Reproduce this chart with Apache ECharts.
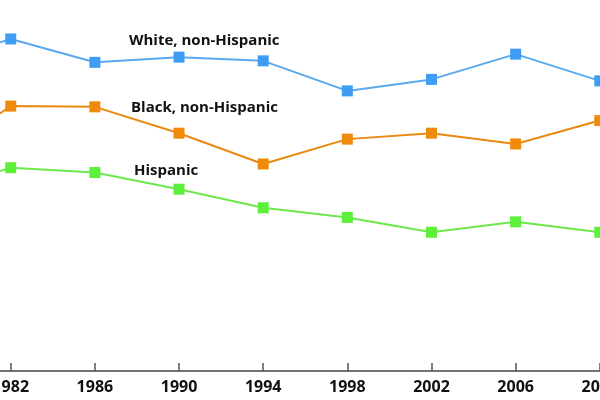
<!DOCTYPE html>
<html>
<head>
<meta charset="utf-8">
<script src="https://cdn.jsdelivr.net/npm/echarts@6/dist/echarts.min.js"></script>
<style>html,body{margin:0;padding:0;background:#fff}#c{width:600px;height:400px}</style>
</head>
<body>
<div id="c"></div>
<script>
const years = [1978, 1982, 1986, 1990, 1994, 1998, 2002, 2006, 2010];
const tickYears = [1982, 1986, 1990, 1994, 1998, 2002, 2006, 2010];
const whiteNonHispanic = [82.5, 89.5, 83.2, 84.6, 83.6, 75.5, 78.6, 85.4, 78.2];
const blackNonHispanic = [56.1, 71.4, 71.2, 64.1, 55.8, 62.5, 64.1, 61.2, 67.5];
const hispanic = [47.7, 54.8, 53.5, 49.0, 44.0, 41.4, 37.4, 40.2, 37.4];
const seriesNames = ['White, non-Hispanic', 'Black, non-Hispanic', 'Hispanic'];

const chart = echarts.init(document.getElementById('c'));
const font = '"Open Sans", "Liberation Sans", sans-serif';
function pairs(vals){ return years.map((y,i)=>[y, vals[i]]); }
function lineSeries(name, vals, color, mcolor){
  return {
    name, type:'line', data: pairs(vals), clip:true,
    symbol:'rect', symbolSize:11,
    lineStyle:{color, width:2},
    itemStyle:{color:mcolor, borderWidth:0},
    emphasis:{disabled:true}
  };
}
chart.setOption({
  animation:false,
  backgroundColor:'#fff',
  grid:{left:0, right:0, top:0, bottom:29, containLabel:false, outerBoundsMode:'none'},
  xAxis:{
    type:'value', min:1981.49, max:2010.01,
    splitLine:{show:false},
    axisLine:{show:true, lineStyle:{color:'#444', width:1.5}},
    axisTick:{show:true, inside:true, length:8, customValues:tickYears, lineStyle:{color:'#555', width:1.5}},
    axisLabel:{show:true, customValues:tickYears, margin:8, color:'#111', fontFamily:font, fontWeight:'bold', fontSize:16, formatter:v=>String(v)}
  },
  yAxis:{type:'value', min:0, max:100, show:false, splitLine:{show:false}},
  series:[
    lineSeries(seriesNames[0], whiteNonHispanic, '#5aa9f0', '#3f9cf3'),
    lineSeries(seriesNames[1], blackNonHispanic, '#e9890f', '#f08a0a'),
    lineSeries(seriesNames[2], hispanic, '#6de84a', '#5df03a')
  ],
  graphic:[
    {type:'text', x:129, y:41, style:{text:seriesNames[0], font:'bold 15px '+font, fill:'#111', textAlign:'left', textVerticalAlign:'middle'}},
    {type:'text', x:131, y:108, style:{text:seriesNames[1], font:'bold 15px '+font, fill:'#111', textAlign:'left', textVerticalAlign:'middle'}},
    {type:'text', x:134, y:171, style:{text:seriesNames[2], font:'bold 15px '+font, fill:'#111', textAlign:'left', textVerticalAlign:'middle'}}
  ]
});
</script>
</body>
</html>
